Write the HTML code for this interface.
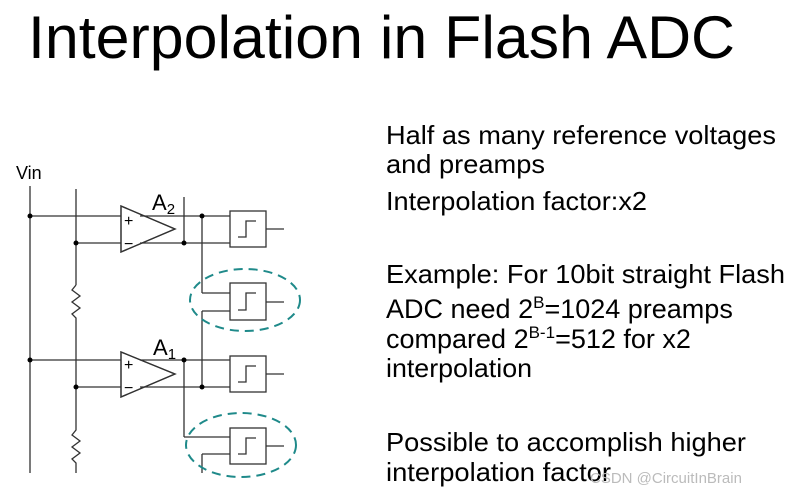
<!DOCTYPE html>
<html><head><meta charset="utf-8"><style>
html,body{margin:0;padding:0;background:#fff;width:800px;height:495px;overflow:hidden}
svg{display:block}
text{font-family:"Liberation Sans",Arial,sans-serif;fill:#000}
</style></head><body>
<svg width="800" height="495" viewBox="0 0 800 495">
<text x="28" y="58" font-size="60" textLength="707" lengthAdjust="spacingAndGlyphs">Interpolation in Flash ADC</text>

<g font-size="26">
<text x="386" y="144" textLength="390" lengthAdjust="spacingAndGlyphs">Half as many reference voltages</text>
<text x="386" y="173" textLength="159" lengthAdjust="spacingAndGlyphs">and preamps</text>
<text x="386" y="210" textLength="261" lengthAdjust="spacingAndGlyphs">Interpolation factor:x2</text>
<text x="386" y="283" textLength="399" lengthAdjust="spacingAndGlyphs">Example: For 10bit straight Flash</text>
<text x="386" y="318" font-size="27">ADC need 2<tspan font-size="17" dy="-10">B</tspan><tspan dy="10">=1024 preamps</tspan></text>
<text x="386" y="348" font-size="27">compared 2<tspan font-size="17" dy="-10">B-1</tspan><tspan dy="10">=512 for x2</tspan></text>
<text x="386" y="377" textLength="146" lengthAdjust="spacingAndGlyphs">interpolation</text>
<text x="386" y="451" textLength="360" lengthAdjust="spacingAndGlyphs">Possible to accomplish higher</text>
<text x="386" y="481" textLength="225" lengthAdjust="spacingAndGlyphs">interpolation factor</text>
</g>
<text x="590" y="483" font-size="15" style="fill:#bbbbbb">CSDN @CircuitInBrain</text>

<g stroke="#333" stroke-width="1.3" fill="none">
<line x1="30" y1="186" x2="30" y2="473"/>
<line x1="76" y1="189" x2="76" y2="285"/>
<polyline points="76,285 72,290 80,296 72,302 80,308 72,314 76,318 76,430 72,435 80,441 72,447 80,453 72,459 76,463 76,473"/>
<polygon points="121,206 121,252 175,229" fill="#fff"/>
<line x1="30" y1="216" x2="121" y2="216"/>
<line x1="76" y1="243" x2="121" y2="243"/>
<line x1="140" y1="216" x2="230" y2="216"/>
<line x1="140" y1="243" x2="230" y2="243"/>
<line x1="184" y1="197" x2="184" y2="243"/>
<line x1="202" y1="216" x2="202" y2="293"/>
<line x1="202" y1="293" x2="230" y2="293"/>
<line x1="202" y1="311" x2="230" y2="311"/>
<line x1="202" y1="311" x2="202" y2="387"/>
<polygon points="121,352 121,397 175,374" fill="#fff"/>
<line x1="30" y1="360" x2="121" y2="360"/>
<line x1="76" y1="387" x2="121" y2="387"/>
<line x1="140" y1="360" x2="230" y2="360"/>
<line x1="140" y1="387" x2="230" y2="387"/>
<polygon points="121,206 121,252 175,229"/>
<polygon points="121,352 121,397 175,374"/>
<line x1="184" y1="360" x2="184" y2="437"/>
<line x1="184" y1="437" x2="230" y2="437"/>
<line x1="202" y1="454" x2="230" y2="454"/>
<line x1="202" y1="454" x2="202" y2="473"/>
<g>
<rect x="230" y="211" width="36" height="36"/><line x1="266" y1="229" x2="284" y2="229"/><polyline points="238,237 246,237 246,221 256,221"/>
<rect x="230" y="283" width="36" height="37"/><line x1="266" y1="302" x2="284" y2="302"/><polyline points="238,310 246,310 246,293 256,293"/>
<rect x="230" y="356" width="36" height="36"/><line x1="266" y1="374" x2="284" y2="374"/><polyline points="238,382 246,382 246,366 256,366"/>
<rect x="230" y="428" width="36" height="36"/><line x1="266" y1="446" x2="284" y2="446"/><polyline points="238,454 246,454 246,438 256,438"/>
</g>
</g>
<g fill="#000">
<circle cx="30" cy="216" r="2.5"/><circle cx="30" cy="360" r="2.5"/>
<circle cx="76" cy="243" r="2.5"/><circle cx="76" cy="387" r="2.5"/>
<circle cx="184" cy="243" r="2.5"/><circle cx="202" cy="216" r="2.5"/>
<circle cx="184" cy="360" r="2.5"/><circle cx="202" cy="387" r="2.5"/>
</g>
<g font-size="16" fill="#333">
<text x="124" y="226">+</text><text x="124" y="249">−</text>
<text x="124" y="370">+</text><text x="124" y="393">−</text>
</g>
<text x="152" y="210" font-size="22">A<tspan font-size="15" dy="4">2</tspan></text>
<text x="153" y="355" font-size="22">A<tspan font-size="15" dy="4">1</tspan></text>
<text x="16" y="179" font-size="18">Vin</text>
<g stroke="#1f8a8a" stroke-width="2" fill="none" stroke-dasharray="9,6">
<ellipse cx="245" cy="300" rx="55" ry="31"/>
<ellipse cx="241" cy="445" rx="55" ry="32"/>
</g>
</svg>
</body></html>
